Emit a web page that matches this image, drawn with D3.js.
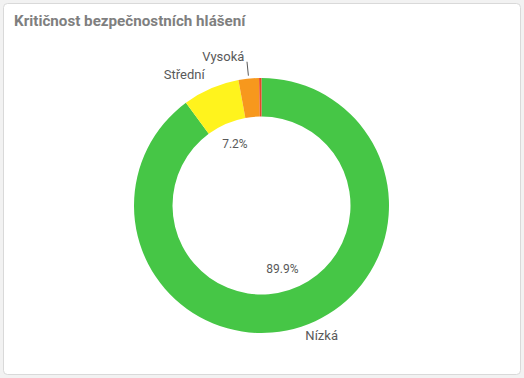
<!DOCTYPE html>
<html>
<head>
<meta charset="utf-8">
<script src="https://cdn.jsdelivr.net/npm/d3@7"></script>
<style>
  html, body { margin: 0; padding: 0; background: #f2f2f2; }
  svg { display: block; }
</style>
</head>
<body>
<svg width="524" height="378"></svg>
<script>
const svg = d3.select('svg');
const width  = +svg.attr('width');
const height = +svg.attr('height');

// Data
const categories = ['Nízká', 'Střední', 'Vysoká', 'Kritická'];
const values     = [89.9, 7.2, 2.6, 0.3];
const colors     = ['#46c646', '#fff31d', '#f7981d', '#e8442a'];
const showName   = [true, true, true, false];
const showPct    = [true, true, false, false];

// Card
svg.append('rect')
  .attr('x', 3.5).attr('y', 3.5)
  .attr('width', width - 7).attr('height', height - 7)
  .attr('rx', 4)
  .attr('fill', '#fff')
  .attr('stroke', '#d9d9d9');

svg.append('text')
  .attr('x', 14).attr('y', 26)
  .attr('fill', '#7f7f7f')
  .attr('font-family', 'Roboto, sans-serif')
  .attr('font-weight', 'bold')
  .attr('font-size', 15.2)
  .text('Kritičnost bezpečnostních hlášení');

// Donut
const cx = 261.5, cy = 205.5;
const outerR = 127.5, innerR = 89;

const data = categories.map((c, i) => ({ name: c, value: values[i], color: colors[i], label: showName[i], pct: showPct[i] }));

const pie = d3.pie().value(d => d.value).sort(null);
const arcs = pie(data);
const arc = d3.arc().innerRadius(innerR).outerRadius(outerR);

const chart = svg.append('g').attr('transform', `translate(${cx},${cy})`);

chart.selectAll('path').data(arcs)
  .enter().append('path')
    .attr('d', arc)
    .attr('fill', d => d.data.color);

const fmt = d3.format('.1f');

// percentage labels inside ring
const pctArc = d3.arc().innerRadius(innerR - 22).outerRadius(innerR - 22);
chart.selectAll('text.pct').data(arcs.filter(d => d.data.pct))
  .enter().append('text')
    .attr('class', 'pct')
    .attr('transform', d => `translate(${pctArc.centroid(d)})`)
    .attr('text-anchor', 'middle')
    .attr('dy', '0.35em')
    .attr('font-family', 'Roboto, sans-serif')
    .attr('font-size', 12)
    .attr('fill', '#595959')
    .text(d => fmt(d.data.value) + '%');

// category labels outside ring
const nameArc = d3.arc().innerRadius(outerR + 14).outerRadius(outerR + 14);
const nameOffset = { 'Nízká': [16, -4], 'Střední': [-21, -1], 'Vysoká': [-24, -8] };
const labels = arcs.filter(d => d.data.label);

chart.selectAll('text.name').data(labels)
  .enter().append('text')
    .attr('class', 'name')
    .attr('transform', d => {
      const c = nameArc.centroid(d);
      const o = nameOffset[d.data.name];
      return `translate(${c[0] + o[0]},${c[1] + o[1]})`;
    })
    .attr('text-anchor', 'middle')
    .attr('dy', '0.35em')
    .attr('font-family', 'Roboto, sans-serif')
    .attr('font-size', 13)
    .attr('fill', '#595959')
    .text(d => d.data.name);

// leader line for Vysoká
const vys = arcs.find(d => d.data.name === 'Vysoká');
const p1 = d3.arc().innerRadius(outerR + 3).outerRadius(outerR + 3).centroid(vys);
const p2 = d3.arc().innerRadius(outerR + 17).outerRadius(outerR + 17).centroid(vys);
chart.append('line')
  .attr('x1', p1[0]).attr('y1', p1[1])
  .attr('x2', p2[0]).attr('y2', p2[1])
  .attr('stroke', '#595959')
  .attr('stroke-width', 1);
</script>
</body>
</html>
